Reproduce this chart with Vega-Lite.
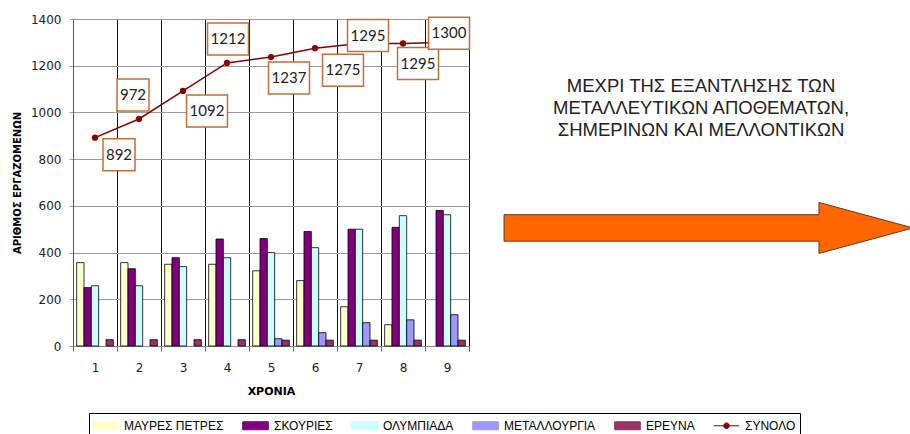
{
  "$schema": "https://vega.github.io/schema/vega-lite/v6.json",
  "background": "white",
  "padding": {"left": 12, "top": 13, "right": 0, "bottom": 0},
  "bounds": "flush",
  "spacing": 0,
  "config": {"view": {"stroke": null}, "font": "DejaVu Sans"},
  "resolve": {"scale": {"color": "independent"}, "legend": {"color": "independent"}},
  "datasets": {
    "bars": [
      {"year": 1, "series": "ΜΑΥΡΕΣ ΠΕΤΡΕΣ", "value": 357},
      {"year": 1, "series": "ΣΚΟΥΡΙΕΣ", "value": 250},
      {"year": 1, "series": "ΟΛΥΜΠΙΑΔΑ", "value": 258},
      {"year": 1, "series": "ΕΡΕΥΝΑ", "value": 27},
      {"year": 2, "series": "ΜΑΥΡΕΣ ΠΕΤΡΕΣ", "value": 357},
      {"year": 2, "series": "ΣΚΟΥΡΙΕΣ", "value": 331},
      {"year": 2, "series": "ΟΛΥΜΠΙΑΔΑ", "value": 258},
      {"year": 2, "series": "ΕΡΕΥΝΑ", "value": 27},
      {"year": 3, "series": "ΜΑΥΡΕΣ ΠΕΤΡΕΣ", "value": 350},
      {"year": 3, "series": "ΣΚΟΥΡΙΕΣ", "value": 378},
      {"year": 3, "series": "ΟΛΥΜΠΙΑΔΑ", "value": 340},
      {"year": 3, "series": "ΕΡΕΥΝΑ", "value": 27},
      {"year": 4, "series": "ΜΑΥΡΕΣ ΠΕΤΡΕΣ", "value": 350},
      {"year": 4, "series": "ΣΚΟΥΡΙΕΣ", "value": 458},
      {"year": 4, "series": "ΟΛΥΜΠΙΑΔΑ", "value": 378},
      {"year": 4, "series": "ΕΡΕΥΝΑ", "value": 27},
      {"year": 5, "series": "ΜΑΥΡΕΣ ΠΕΤΡΕΣ", "value": 322},
      {"year": 5, "series": "ΣΚΟΥΡΙΕΣ", "value": 460},
      {"year": 5, "series": "ΟΛΥΜΠΙΑΔΑ", "value": 400},
      {"year": 5, "series": "ΜΕΤΑΛΛΟΥΡΓΙΑ", "value": 31},
      {"year": 5, "series": "ΕΡΕΥΝΑ", "value": 25},
      {"year": 6, "series": "ΜΑΥΡΕΣ ΠΕΤΡΕΣ", "value": 280},
      {"year": 6, "series": "ΣΚΟΥΡΙΕΣ", "value": 490},
      {"year": 6, "series": "ΟΛΥΜΠΙΑΔΑ", "value": 421},
      {"year": 6, "series": "ΜΕΤΑΛΛΟΥΡΓΙΑ", "value": 57},
      {"year": 6, "series": "ΕΡΕΥΝΑ", "value": 25},
      {"year": 7, "series": "ΜΑΥΡΕΣ ΠΕΤΡΕΣ", "value": 168},
      {"year": 7, "series": "ΣΚΟΥΡΙΕΣ", "value": 500},
      {"year": 7, "series": "ΟΛΥΜΠΙΑΔΑ", "value": 500},
      {"year": 7, "series": "ΜΕΤΑΛΛΟΥΡΓΙΑ", "value": 100},
      {"year": 7, "series": "ΕΡΕΥΝΑ", "value": 25},
      {"year": 8, "series": "ΜΑΥΡΕΣ ΠΕΤΡΕΣ", "value": 91},
      {"year": 8, "series": "ΣΚΟΥΡΙΕΣ", "value": 508},
      {"year": 8, "series": "ΟΛΥΜΠΙΑΔΑ", "value": 558},
      {"year": 8, "series": "ΜΕΤΑΛΛΟΥΡΓΙΑ", "value": 112},
      {"year": 8, "series": "ΕΡΕΥΝΑ", "value": 25},
      {"year": 9, "series": "ΣΚΟΥΡΙΕΣ", "value": 580},
      {"year": 9, "series": "ΟΛΥΜΠΙΑΔΑ", "value": 562},
      {"year": 9, "series": "ΜΕΤΑΛΛΟΥΡΓΙΑ", "value": 134},
      {"year": 9, "series": "ΕΡΕΥΝΑ", "value": 25}
    ],
    "totals": [
      {"year": 1, "total": 892},
      {"year": 2, "total": 972},
      {"year": 3, "total": 1092},
      {"year": 4, "total": 1212},
      {"year": 5, "total": 1237},
      {"year": 6, "total": 1275},
      {"year": 7, "total": 1295},
      {"year": 8, "total": 1295},
      {"year": 9, "total": 1300}
    ],
    "notes": [
      {"kind": "text", "x": 0.525, "y": 0.795, "label": "ΜΕΧΡΙ ΤΗΣ ΕΞΑΝΤΛΗΣΗΣ ΤΩΝ\nΜΕΤΑΛΛΕΥΤΙΚΩΝ ΑΠΟΘΕΜΑΤΩΝ,\nΣΗΜΕΡΙΝΩΝ ΚΑΙ ΜΕΛΛΟΝΤΙΚΩΝ"},
      {"kind": "arrow", "x": 0.542, "y": 0.361, "label": ""}
    ]
  },
  "hconcat": [
    {
      "width": 396,
      "height": 327,
      "encoding": {
        "x": {
          "field": "year", "type": "ordinal",
          "scale": {"paddingInner": 0, "paddingOuter": 0},
          "axis": {
            "title": "ΧΡΟΝΙΑ", "labelAngle": 0, "tickBand": "extent",
            "grid": true, "gridColor": "#111", "gridWidth": 1,
            "domainColor": "#888", "tickColor": "#666", "tickSize": 5,
            "labelPadding": 11, "labelFontSize": 12, "labelColor": "#222",
            "titleFontSize": 11, "titleFontWeight": "bold", "titleColor": "#000", "titlePadding": 12
          }
        }
      },
      "layer": [
        {
          "data": {"name": "bars"},
          "mark": {"type": "bar", "stroke": "#000", "strokeWidth": 0.8},
          "encoding": {
            "xOffset": {"field": "series", "type": "nominal",
              "scale": {"domain": ["ΜΑΥΡΕΣ ΠΕΤΡΕΣ", "ΣΚΟΥΡΙΕΣ", "ΟΛΥΜΠΙΑΔΑ", "ΜΕΤΑΛΛΟΥΡΓΙΑ", "ΕΡΕΥΝΑ"], "paddingInner": 0, "paddingOuter": 0.5}},
            "y": {
              "field": "value", "type": "quantitative",
              "scale": {"domain": [0, 1400], "nice": false},
              "axis": {
                "title": "ΑΡΙΘΜΟΣ ΕΡΓΑΖΟΜΕΝΩΝ", "values": [0, 200, 400, 600, 800, 1000, 1200, 1400], "format": "d",
                "grid": true, "gridColor": "#9a9a9a", "domainColor": "#555",
                "tickColor": "#9a9a9a", "tickSize": 4, "labelPadding": 8,
                "labelFontSize": 12, "labelColor": "#222",
                "titleFontSize": 10, "titleFontWeight": "bold", "titleColor": "#000", "titlePadding": 8
              }
            },
            "color": {
              "field": "series", "type": "nominal",
              "scale": {
                "domain": ["ΜΑΥΡΕΣ ΠΕΤΡΕΣ", "ΣΚΟΥΡΙΕΣ", "ΟΛΥΜΠΙΑΔΑ", "ΜΕΤΑΛΛΟΥΡΓΙΑ", "ΕΡΕΥΝΑ", "ΣΥΝΟΛΟ"],
                "range": ["#FFFFCC", "#800080", "#CCFFFF", "#9999FF", "#993366", "#8B0000"]
              },
              "legend": {
                "title": null, "orient": "none", "legendX": 16, "legendY": 394,
                "direction": "horizontal", "columns": 6,
                "strokeColor": "#000", "fillColor": "white", "padding": 4,
                "symbolSize": 256, "labelFont": "Liberation Sans", "labelFontSize": 12,
                "labelColor": "#000", "columnPadding": 16, "labelOffset": 10, "symbolOffset": 4,
                "encode": {
                  "symbols": {
                    "update": {
                      "shape": {"signal": "datum.value === 'ΣΥΝΟΛΟ' ? 'M-1.6,0H-0.35M0.35,0H1.6M-0.35,0A0.35,0.35 0 1,0 0.35,0A0.35,0.35 0 1,0 -0.35,0' : 'M-1.6,-0.5H1.6V0.5H-1.6Z'"},
                      "stroke": {"signal": "datum.value === 'ΣΥΝΟΛΟ' ? '#8B0000' : '#000'"},
                      "strokeWidth": {"value": 1},
                      "opacity": {"value": 1}
                    }
                  }
                }
              }
            }
          }
        },
        {
          "data": {"name": "totals"},
          "mark": {"type": "line", "strokeWidth": 1.5, "point": {"filled": true, "size": 40, "opacity": 1}},
          "encoding": {
            "y": {"field": "total", "type": "quantitative"},
            "color": {
              "datum": "ΣΥΝΟΛΟ",
              "legend": {
                "title": null, "orient": "none", "legendX": 16, "legendY": 394,
                "direction": "horizontal", "columns": 6,
                "strokeColor": "#000", "fillColor": "white", "padding": 4,
                "symbolSize": 256, "labelFont": "Liberation Sans", "labelFontSize": 12,
                "labelColor": "#000", "columnPadding": 16, "labelOffset": 10, "symbolOffset": 4,
                "encode": {
                  "symbols": {
                    "update": {
                      "shape": {"signal": "datum.value === 'ΣΥΝΟΛΟ' ? 'M-1.6,0H-0.35M0.35,0H1.6M-0.35,0A0.35,0.35 0 1,0 0.35,0A0.35,0.35 0 1,0 -0.35,0' : 'M-1.6,-0.5H1.6V0.5H-1.6Z'"},
                      "stroke": {"signal": "datum.value === 'ΣΥΝΟΛΟ' ? '#8B0000' : '#000'"},
                      "strokeWidth": {"value": 1},
                      "opacity": {"value": 1}
                    }
                  }
                }
              }
            }
          }
        },
        {
          "data": {"name": "totals"},
          "transform": [{"filter": "datum.year == 1"}],
          "encoding": {"y": {"field": "total", "type": "quantitative"}},
          "layer": [
            {"mark": {"type": "point", "shape": "M-1,-1H1V1H-1Z", "size": 1024, "filled": true, "fill": "white", "stroke": "#C0703C", "strokeWidth": 1.5, "opacity": 1, "xOffset": 24, "yOffset": 17}},
            {"mark": {"type": "text", "dx": 24, "dy": 17, "font": "Lato", "fontSize": 15, "color": "#222", "align": "center", "baseline": "middle"}, "encoding": {"text": {"field": "total"}}}
          ]
        },
        {
          "data": {"name": "totals"},
          "transform": [{"filter": "datum.year == 2"}],
          "encoding": {"y": {"field": "total", "type": "quantitative"}},
          "layer": [
            {"mark": {"type": "point", "shape": "M-1,-1H1V1H-1Z", "size": 1024, "filled": true, "fill": "white", "stroke": "#C0703C", "strokeWidth": 1.5, "opacity": 1, "xOffset": -6, "yOffset": -24}},
            {"mark": {"type": "text", "dx": -6, "dy": -24, "font": "Lato", "fontSize": 15, "color": "#222", "align": "center", "baseline": "middle"}, "encoding": {"text": {"field": "total"}}}
          ]
        },
        {
          "data": {"name": "totals"},
          "transform": [{"filter": "datum.year == 3"}],
          "encoding": {"y": {"field": "total", "type": "quantitative"}},
          "layer": [
            {"mark": {"type": "point", "shape": "M-1.28,-1H1.28V1H-1.28Z", "size": 1024, "filled": true, "fill": "white", "stroke": "#C0703C", "strokeWidth": 1.5, "opacity": 1, "xOffset": 24, "yOffset": 20}},
            {"mark": {"type": "text", "dx": 24, "dy": 20, "font": "Lato", "fontSize": 15, "color": "#222", "align": "center", "baseline": "middle"}, "encoding": {"text": {"field": "total"}}}
          ]
        },
        {
          "data": {"name": "totals"},
          "transform": [{"filter": "datum.year == 4"}],
          "encoding": {"y": {"field": "total", "type": "quantitative"}},
          "layer": [
            {"mark": {"type": "point", "shape": "M-1.28,-1H1.28V1H-1.28Z", "size": 1024, "filled": true, "fill": "white", "stroke": "#C0703C", "strokeWidth": 1.5, "opacity": 1, "xOffset": 1, "yOffset": -24}},
            {"mark": {"type": "text", "dx": 1, "dy": -24, "font": "Lato", "fontSize": 15, "color": "#222", "align": "center", "baseline": "middle"}, "encoding": {"text": {"field": "total"}}}
          ]
        },
        {
          "data": {"name": "totals"},
          "transform": [{"filter": "datum.year == 5"}],
          "encoding": {"y": {"field": "total", "type": "quantitative"}},
          "layer": [
            {"mark": {"type": "point", "shape": "M-1.28,-1H1.28V1H-1.28Z", "size": 1024, "filled": true, "fill": "white", "stroke": "#C0703C", "strokeWidth": 1.5, "opacity": 1, "xOffset": 18, "yOffset": 21}},
            {"mark": {"type": "text", "dx": 18, "dy": 21, "font": "Lato", "fontSize": 15, "color": "#222", "align": "center", "baseline": "middle"}, "encoding": {"text": {"field": "total"}}}
          ]
        },
        {
          "data": {"name": "totals"},
          "transform": [{"filter": "datum.year == 6"}],
          "encoding": {"y": {"field": "total", "type": "quantitative"}},
          "layer": [
            {"mark": {"type": "point", "shape": "M-1.28,-1H1.28V1H-1.28Z", "size": 1024, "filled": true, "fill": "white", "stroke": "#C0703C", "strokeWidth": 1.5, "opacity": 1, "xOffset": 28, "yOffset": 22}},
            {"mark": {"type": "text", "dx": 28, "dy": 22, "font": "Lato", "fontSize": 15, "color": "#222", "align": "center", "baseline": "middle"}, "encoding": {"text": {"field": "total"}}}
          ]
        },
        {
          "data": {"name": "totals"},
          "transform": [{"filter": "datum.year == 7"}],
          "encoding": {"y": {"field": "total", "type": "quantitative"}},
          "layer": [
            {"mark": {"type": "point", "shape": "M-1.28,-1H1.28V1H-1.28Z", "size": 1024, "filled": true, "fill": "white", "stroke": "#C0703C", "strokeWidth": 1.5, "opacity": 1, "xOffset": 9, "yOffset": -8}},
            {"mark": {"type": "text", "dx": 9, "dy": -8, "font": "Lato", "fontSize": 15, "color": "#222", "align": "center", "baseline": "middle"}, "encoding": {"text": {"field": "total"}}}
          ]
        },
        {
          "data": {"name": "totals"},
          "transform": [{"filter": "datum.year == 8"}],
          "encoding": {"y": {"field": "total", "type": "quantitative"}},
          "layer": [
            {"mark": {"type": "point", "shape": "M-1.28,-1H1.28V1H-1.28Z", "size": 1024, "filled": true, "fill": "white", "stroke": "#C0703C", "strokeWidth": 1.5, "opacity": 1, "xOffset": 15, "yOffset": 20}},
            {"mark": {"type": "text", "dx": 15, "dy": 20, "font": "Lato", "fontSize": 15, "color": "#222", "align": "center", "baseline": "middle"}, "encoding": {"text": {"field": "total"}}}
          ]
        },
        {
          "data": {"name": "totals"},
          "transform": [{"filter": "datum.year == 9"}],
          "encoding": {"y": {"field": "total", "type": "quantitative"}},
          "layer": [
            {"mark": {"type": "point", "shape": "M-1.28,-1H1.28V1H-1.28Z", "size": 1024, "filled": true, "fill": "white", "stroke": "#C0703C", "strokeWidth": 1.5, "opacity": 1, "xOffset": 2, "yOffset": -9}},
            {"mark": {"type": "text", "dx": 2, "dy": -9, "font": "Lato", "fontSize": 15, "color": "#222", "align": "center", "baseline": "middle"}, "encoding": {"text": {"field": "total"}}}
          ]
        }
      ]
    },
    {
      "width": 442,
      "height": 327,
      "data": {"name": "notes"},
      "encoding": {
        "x": {"field": "x", "type": "quantitative", "scale": {"domain": [0, 1]}, "axis": null},
        "y": {"field": "y", "type": "quantitative", "scale": {"domain": [0, 1]}, "axis": null}
      },
      "layer": [
        {
          "transform": [{"filter": "datum.kind == 'arrow'"}],
          "mark": {"type": "point", "shape": "M-8.02,-0.52L4.33,-0.52L4.33,-1L8.02,0L4.33,1L4.33,0.52L-8.02,0.52Z", "size": 2601, "filled": true, "fill": "#FF6600", "stroke": "#6B3A1A", "strokeWidth": 1, "opacity": 1}
        },
        {
          "transform": [{"filter": "datum.kind == 'text'"}],
          "mark": {"type": "text", "lineBreak": "\n", "font": "Liberation Sans", "fontSize": 18.5, "lineHeight": 22, "align": "center", "baseline": "middle", "color": "#222"},
          "encoding": {"text": {"field": "label"}}
        }
      ]
    }
  ]
}
